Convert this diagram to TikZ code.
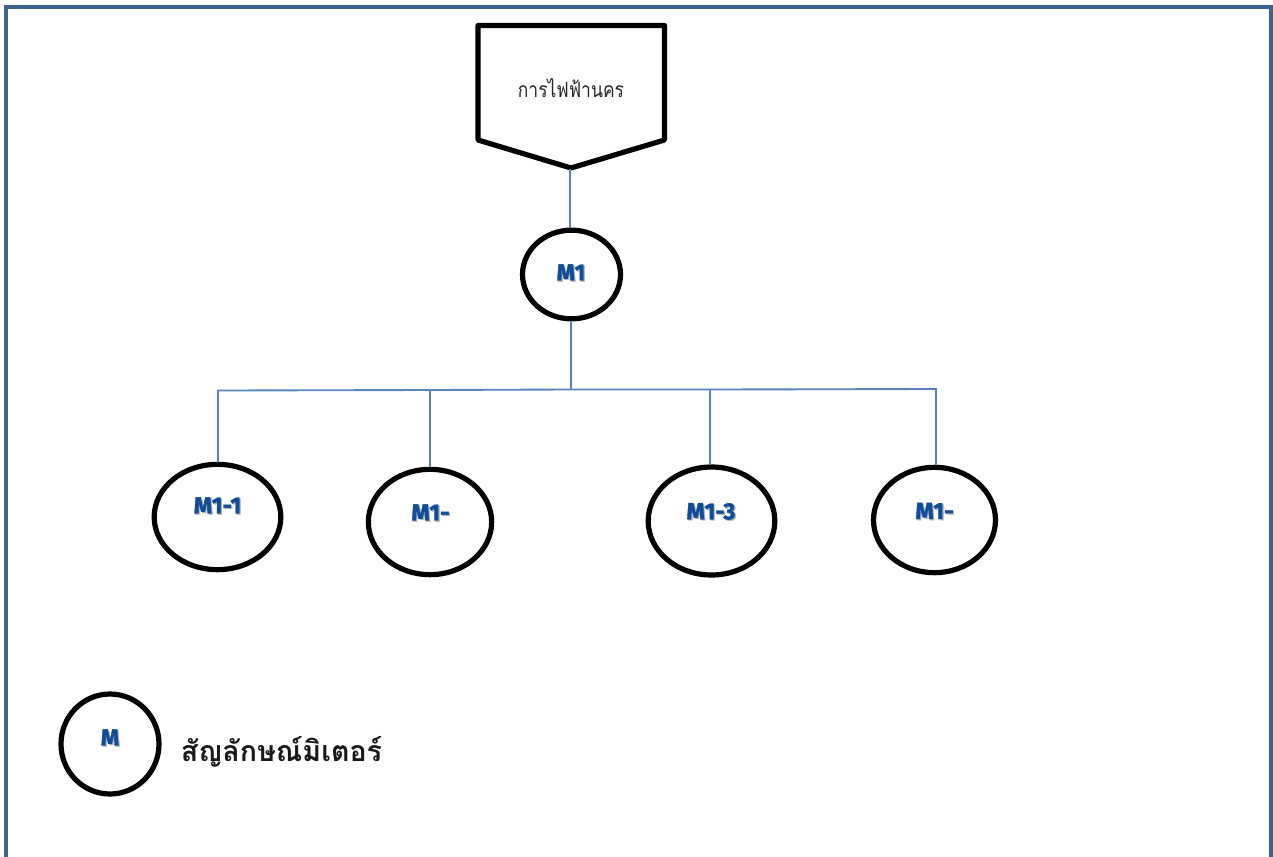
\documentclass[tikz,border=0pt]{standalone}
\usepackage{fontspec}
\usetikzlibrary{shapes.geometric}
\newfontfamily\thaifont[Script=Thai]{Loma}
\newfontfamily\thainarrow[Script=Thai,FakeStretch=0.83]{Loma}
\newfontfamily\labfont[BoldFeatures={FakeBold=1.6}]{Fira Sans}
\definecolor{framecol}{HTML}{3C648F}
\definecolor{linkcol}{HTML}{5585BC}
\definecolor{labcol}{HTML}{0F4C9A}
\newcommand{\meterlab}[1]{\leavevmode\rlap{\kern0.9pt\raisebox{-0.9pt}{\textcolor{black!30}{#1}}}\textcolor{labcol}{#1}}
\tikzset{
  x=0.75pt,y=-0.75pt,
  meter/.style={draw=black,line width=3.9pt,ellipse,inner sep=0pt,outer sep=0pt,fill=white},
  link/.style={draw=linkcol,line width=1.4pt},
  metertext/.style={inner sep=0pt,font=\labfont\fontsize{17.5}{20}\selectfont\bfseries},
}
\begin{document}
\begin{tikzpicture}
\useasboundingbox (0,0) rectangle (1273,856);
\draw[framecol,line width=2.3pt] (6,870) -- (6,7) -- (1271,7) -- (1271,870);
% source
\draw[black,line width=3.9pt,line join=round] (478,25.5) -- (664.5,25.5) -- (664.5,140) -- (571,168) -- (478,140) -- cycle;
\coordinate (tip) at (570,169);
\node[inner sep=0pt,font=\thainarrow\fontsize{15.8}{18}\selectfont,text=black!85] (src) at (571,88.5) {การไฟฟ้านคร};
% meters
\node[meter,minimum width=73.5pt,minimum height=66.5pt] (m1) at (571.5,274.5) {};
\node[meter,minimum width=95pt,minimum height=79pt] (m11) at (217.5,517) {};
\node[meter,minimum width=92.5pt,minimum height=79pt] (m12) at (430,522) {};
\node[meter,minimum width=95pt,minimum height=81pt] (m13) at (711.5,521) {};
\node[meter,minimum width=91.5pt,minimum height=79pt] (m14) at (934.5,520) {};
\node[meter,minimum width=73.5pt,minimum height=75pt] (leg) at (110,744) {};
% bus
\coordinate (b1) at (218,390.5);
\coordinate (b2) at (429.9,390);
\coordinate (b0) at (570.9,389.5);
\coordinate (b3) at (710,389.5);
\coordinate (b4) at (936,389);
\draw[link] (tip) -- ([yshift=1.4pt]m1.north -| tip);
\draw[link] ([yshift=-1.4pt]m1.south -| b0) -- (b0);
\draw[link] ([yshift=1.4pt]m11.north -| b1) -- (b1) -- (b2) -- (b0) -- (b3) -- (b4) -- ([yshift=1.4pt]m14.north -| b4);
\draw[link] (b2) -- ([yshift=1.4pt]m12.north -| b2);
\draw[link] (b3) -- ([yshift=1.4pt]m13.north -| b3);
% labels
\node[metertext] (t1) at (571,273) {\meterlab{M1}};
\node[metertext] (t11) at (217.5,506) {\meterlab{M1-1}};
\node[metertext] (t12) at (430.5,513) {\meterlab{M1-}};
\node[metertext] (t13) at (711,512) {\meterlab{M1-3}};
\node[metertext] (t14) at (934.5,511.5) {\meterlab{M1-}};
\node[metertext] (tleg) at (110,738) {\meterlab{M}};
\node[inner sep=0pt,anchor=west,font=\thaifont\fontsize{21.4}{24}\selectfont\bfseries,text=black!90] (legtext) at (180.5,752) {สัญลักษณ์มิเตอร์};
\end{tikzpicture}
\end{document}
